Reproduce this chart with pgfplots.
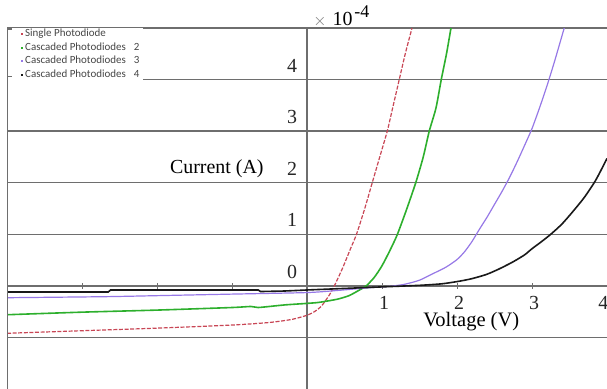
\documentclass[border=0pt]{standalone}
\usepackage{pgfplots}
\pgfplotsset{compat=1.18}
\usepackage{fontspec}
\setmainfont{Liberation Serif}
\newfontfamily\legfont{Carlito}
\definecolor{cred}{RGB}{200,70,85}
\definecolor{cgreen}{RGB}{45,175,45}
\definecolor{cpurple}{RGB}{150,120,230}
\definecolor{gridc}{RGB}{110,110,110}
\definecolor{legtext}{RGB}{70,70,70}
\begin{document}
\begin{tikzpicture}
\begin{axis}[
  scale only axis, width=300bp, height=180.5bp,
  xmin=-4, xmax=4, ymin=-2, ymax=5,
  axis lines=middle,
  axis line style={-, draw=gridc, line width=0.75bp},
  hide obscured x ticks=false, hide obscured y ticks=false,
  xtick={-3,-2,-1,1,2,3}, xticklabels={,,,1,2,3},
  extra x ticks={4}, extra x tick labels={4},
  extra x tick style={xticklabel style={xshift=-2.8bp}},
  ytick={-1,0,1,2,3,4,5}, yticklabels={,0,1,2,3,4,},
  ymajorgrids, grid style={draw=gridc, line width=0.75bp},
  major tick length=3bp,
  x tick style={draw=gridc, line width=0.5bp},
  y tick style={draw=none},
  tick label style={font=\fontsize{10}{12}\selectfont, text=black!85},
  /pgf/number format/assume math mode=true,
  yticklabel style={yshift=7bp},
  xticklabel style={xshift=1bp},
  legend style={at={(0,1)}, anchor=north west, xshift=6.5bp, yshift=0.5bp,
    draw=none, fill=none, inner sep=0pt,
    font=\legfont\fontsize{5.5}{6.5}\selectfont, text=legtext,
    nodes={inner sep=0.4bp, minimum height=6.8bp},
    row sep=0pt,
    /tikz/every even column/.append style={column sep=1.8bp}},
  legend cell align=left,
  legend image code/.code={\draw[#1, solid, line width=0.9bp] (0bp,0bp) -- (1.1bp,0bp);},
]
\addplot[cred, line width=0.6bp, dash pattern=on 2bp off 0.8bp, smooth, tension=0.4] coordinates {
(-4,-0.92) (-3,-0.87) (-2,-0.82) (-1,-0.76) (-0.5,-0.71) (-0.2,-0.65) (0,-0.57)
(0.1,-0.5) (0.2,-0.38) (0.33,-0.1) (0.47,0.33) (0.58,0.72) (0.66,1.0) (0.77,1.5)
(0.87,2.0) (0.97,2.5) (1.07,3.0) (1.15,3.5) (1.23,4.0) (1.31,4.5) (1.4,5.0) (1.45,5.3)};
\addlegendentry{Single Photodiode}
\addplot[cgreen, line width=0.8bp, smooth, tension=0.4] coordinates {
(-4,-0.56) (-3,-0.51) (-2,-0.47) (-1,-0.42) (-0.75,-0.4) (-0.65,-0.42) (-0.3,-0.37)
(0,-0.34) (0.16,-0.32) (0.4,-0.26) (0.56,-0.19) (0.7,-0.08) (0.79,0.0) (0.9,0.17)
(1.0,0.39) (1.1,0.67) (1.2,0.98) (1.32,1.45) (1.45,2.0) (1.55,2.5) (1.63,3.0)
(1.72,3.45) (1.79,4.0) (1.86,4.5) (1.92,5.0) (1.96,5.3)};
\addlegendentry{Cascaded Photodiodes\hspace{4bp}2}
\addplot[cpurple, line width=0.6bp, smooth, tension=0.4] coordinates {
(-4,-0.23) (-2.7,-0.21) (-2,-0.19) (-1,-0.16) (0,-0.13) (0.4,-0.09) (0.8,-0.04)
(1.1,-0.01) (1.3,0.03) (1.5,0.11) (1.67,0.23) (1.85,0.36) (2.0,0.51) (2.1,0.66)
(2.2,0.86) (2.3,1.1) (2.4,1.33) (2.5,1.58) (2.6,1.83) (2.7,2.1) (2.8,2.4)
(2.9,2.72) (3.0,3.05) (3.1,3.45) (3.2,3.88) (3.3,4.35) (3.4,4.85) (3.46,5.15)};
\addlegendentry{Cascaded Photodiodes\hspace{4bp}3}
\addplot[black!90, line width=0.8bp, smooth, tension=0.4] coordinates {
(0,-0.08) (0.5,-0.05) (1.0,-0.02) (1.5,0.01) (1.8,0.04) (2.03,0.09) (2.2,0.14)
(2.39,0.22) (2.55,0.32) (2.74,0.46) (2.9,0.6) (3.0,0.72) (3.12,0.85) (3.25,1.0)
(3.4,1.2) (3.55,1.45) (3.7,1.72) (3.85,2.05) (4.0,2.47)};
\addlegendentry{Cascaded Photodiodes\hspace{4bp}4}
\addplot[black!90, line width=0.8bp, forget plot] coordinates {
(-4,-0.12) (-2.65,-0.12) (-2.62,-0.08) (-0.65,-0.08) (-0.62,-0.11) (-0.3,-0.1)
(0,-0.08)};
\fill[white] (axis cs:-4,5.1) rectangle (axis cs:-2.19,3.93);
\draw[gridc, line width=0.75bp] (axis cs:-4,-2) -- (axis cs:-4,5);
\draw[gridc, line width=0.6bp] (axis cs:-4,4.98) -- (axis cs:-3.93,4.98);
\draw[gridc, line width=0.6bp] (axis cs:-4,4.06) -- (axis cs:-3.93,4.06);
\coordinate (yl) at (axis cs:0,2);
\coordinate (xl) at (axis cs:2.19,-0.70);
\coordinate (sc) at (axis cs:0,5);
\coordinate (bl) at (rel axis cs:0,0);
\coordinate (tr) at (rel axis cs:1,1);
\end{axis}
\node[anchor=east, font=\fontsize{10}{12}\selectfont, inner sep=0pt, xshift=-21.5bp, yshift=7bp] at (yl) {Current (A)};
\node[font=\fontsize{10.3}{12}\selectfont, inner sep=0pt] at (xl) {Voltage (V)};
\node[anchor=base west, inner sep=0pt] at ([xshift=3bp, yshift=1.5bp]sc) {\textcolor{gray}{\fontsize{8}{8}\selectfont$\times$}\hspace{3bp}\fontsize{10}{12}\selectfont 10\hspace{1bp}\raisebox{4bp}{\fontsize{9}{9}\selectfont -4}};
\pgfresetboundingbox
\path ([xshift=-3.5bp]bl) rectangle ([yshift=14bp]tr);
\end{tikzpicture}
\end{document}
